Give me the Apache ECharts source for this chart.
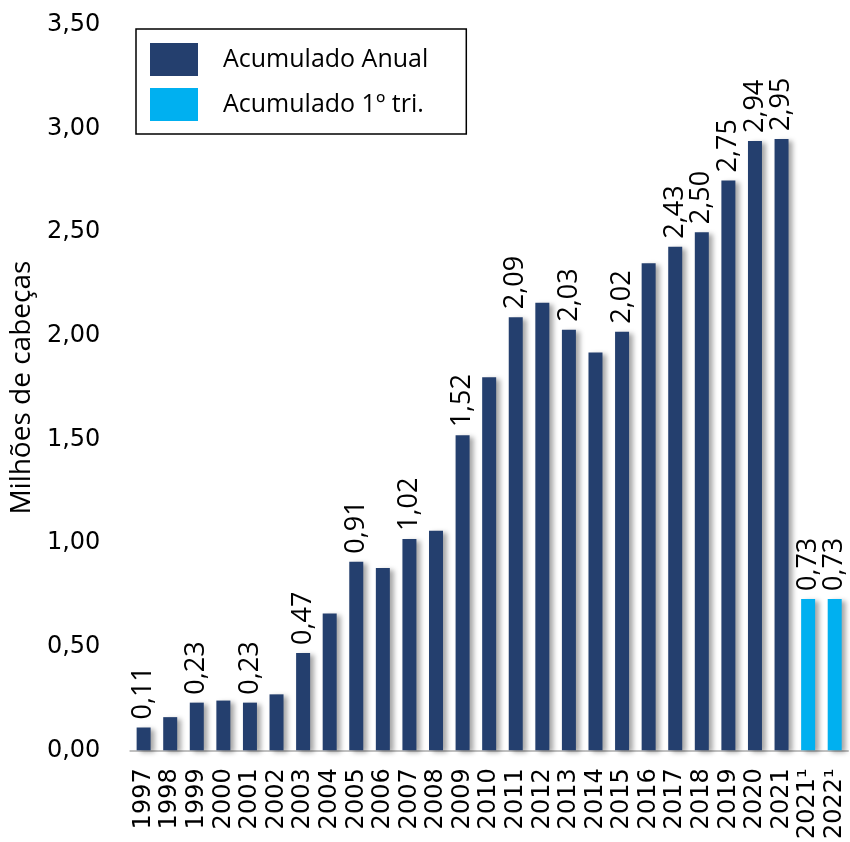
<!DOCTYPE html>
<html><head><meta charset="utf-8">
<script src="https://cdn.jsdelivr.net/npm/echarts@6/dist/echarts.min.js"></script>
<style>html,body{margin:0;padding:0;background:#fff}#c{width:850px;height:842px}</style>
</head><body><div id="c"></div>
<script>
var categories = ['1997','1998','1999','2000','2001','2002','2003','2004','2005','2006','2007','2008','2009','2010','2011','2012','2013','2014','2015','2016','2017','2018','2019','2020','2021','2021¹','2022¹'];
var anualValues = [0.11,0.16,0.23,0.24,0.23,0.27,0.47,0.66,0.91,0.88,1.02,1.06,1.52,1.80,2.09,2.16,2.03,1.92,2.02,2.35,2.43,2.50,2.75,2.94,2.95,null,null];
var triValues = [null,null,null,null,null,null,null,null,null,null,null,null,null,null,null,null,null,null,null,null,null,null,null,null,null,0.73,0.73];
var labeledCategories = ['1997','1999','2001','2003','2005','2007','2009','2011','2013','2015','2017','2018','2019','2020','2021','2021¹','2022¹'];
var yTicks = [0,0.5,1,1.5,2,2.5,3,3.5];

function fmt(v){ return v.toFixed(2).replace('.', ','); }
function build(vals){
  return vals.map(function(v,i){
    if (v === null) return '-';
    return {value: v, label: {show: labeledCategories.indexOf(categories[i]) >= 0}};
  });
}
var labelStyle = {
  position: 'top', rotate: 90, align: 'left', verticalAlign: 'middle', distance: 8,
  fontFamily: 'Open Sans', fontSize: 27, color: '#000',
  formatter: function(p){ return fmt(p.value); }
};
var chart = echarts.init(document.getElementById('c'));
chart.setOption({
  animation: false,
  grid: {left: 127, right: 2, top: 25, bottom: 90, containLabel: false},
  legend: {
    orient: 'vertical', left: 136, top: 29,
    borderColor: '#000', borderWidth: 1.5, padding: [14, 38, 13, 14],
    itemWidth: 48, itemHeight: 33, itemGap: 12,
    textStyle: {fontFamily: 'Open Sans', fontSize: 25, color: '#000', padding: [0,0,0,20]},
    data: [{name:'Acumulado Anual', icon:'rect'}, {name:'Acumulado 1º tri.', icon:'rect'}]
  },
  xAxis: {
    type: 'category', data: categories,
    axisLine: {show: true, lineStyle: {color: '#c0c0c0', width: 2}},
    axisTick: {show: false},
    axisLabel: {interval: 0, rotate: 90, fontFamily: 'DejaVu Sans', fontSize: 24, color: '#000', margin: 18}
  },
  yAxis: {
    type: 'value', min: 0, max: 3.5, interval: 0.5,
    name: 'Milhões de cabeças', nameLocation: 'middle', nameGap: 88,
    nameTextStyle: {fontFamily: 'Liberation Sans Narrow, Open Sans', fontSize: 28, color: '#000'},
    splitLine: {show: false}, axisLine: {show: false}, axisTick: {show: false},
    axisLabel: {fontFamily: 'DejaVu Sans', fontSize: 24, color: '#000', margin: 30,
      formatter: function(v){ return fmt(v); }}
  },
  series: [
    {name: 'Acumulado Anual', type: 'bar', data: build(anualValues), barWidth: 14, barGap: '-100%',
     itemStyle: {color: '#243F6E', shadowColor: 'rgba(0,0,0,0.35)', shadowBlur: 5, shadowOffsetX: 4, shadowOffsetY: 2},
     label: labelStyle},
    {name: 'Acumulado 1º tri.', type: 'bar', data: build(triValues), barWidth: 14, barGap: '-100%',
     itemStyle: {color: '#00B0F0', shadowColor: 'rgba(0,0,0,0.35)', shadowBlur: 5, shadowOffsetX: 4, shadowOffsetY: 2},
     label: labelStyle}
  ]
});
</script></body></html>
